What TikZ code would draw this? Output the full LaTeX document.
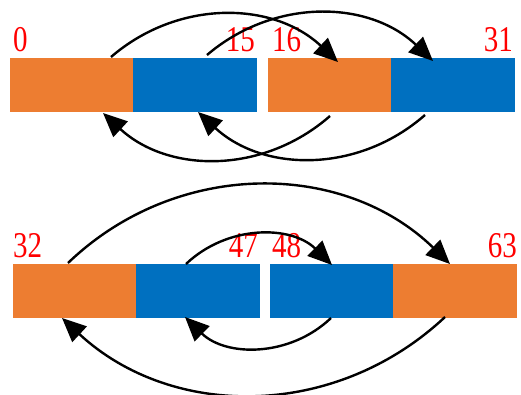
\documentclass[tikz,border=0pt]{standalone}
\usepackage{fontspec}
\setmainfont{Liberation Serif}
\usepackage{graphicx}
\usetikzlibrary{arrows.meta, positioning}
\definecolor{BarOrange}{RGB}{237,125,49}
\definecolor{BarBlue}{RGB}{0,112,192}

% digits come out a bit taller than the plain font
\newcommand{\tallnum}[1]{\scalebox{1}[1.25]{#1}}

\begin{document}
\begin{tikzpicture}[x=1pt, y=1pt,
  half/.style={rectangle, inner sep=0pt, line width=0.4pt, minimum width=122.6pt, minimum height=52.6pt},
  lo/.style={half, fill=BarOrange, draw=BarOrange},
  hi/.style={half, fill=BarBlue, draw=BarBlue},
  idx/.style={text=red, font=\fontsize{29}{29}\selectfont, inner sep=0pt},
  hop/.style={line width=2.4pt, -{Triangle[length=24pt, width=21pt]}}
]

  \useasboundingbox (0,0) rectangle (521,394);

  % Top row: 0..15 | 16..31
  \node[lo, anchor=south west] (t1) at (10,283) {};
  \node[hi, right=0pt of t1] (t2) {};
  \node[lo, right=12pt of t2] (t3) {};
  \node[hi, right=0pt of t3] (t4) {};

  \node[idx, anchor=base west] (n0) at ([xshift=3pt, yshift=6pt]t1.north west) {\tallnum{0}};
  \node[idx, anchor=base east] (n15) at ([xshift=-1pt, yshift=6pt]t2.north east) {\tallnum{15}};
  \node[idx, anchor=base west] (n16) at ([xshift=4pt, yshift=6pt]t3.north west) {\tallnum{16}};
  \node[idx, anchor=base east] (n31) at ([xshift=-1pt, yshift=6pt]t4.north east) {\tallnum{31}};

  % Bottom row: 32..47 | 48..63
  \node[lo, anchor=south west] (u1) at (13,77) {};
  \node[hi, right=0pt of u1] (u2) {};
  \node[hi, right=11pt of u2] (u3) {};
  \node[lo, right=0pt of u3] (u4) {};

  \node[idx, anchor=base west] (n32) at ([xshift=0pt, yshift=7pt]u1.north west) {\tallnum{32}};
  \node[idx, anchor=base east] (n47) at ([xshift=-1pt, yshift=7pt]u2.north east) {\tallnum{47}};
  \node[idx, anchor=base west] (n48) at ([xshift=2pt, yshift=7pt]u3.north west) {\tallnum{48}};
  \node[idx, anchor=base east] (n63) at ([xshift=1pt, yshift=7pt]u4.north east) {\tallnum{63}};

  % Swaps in the top row
  \draw[hop] ([xshift=-22pt, yshift=1pt]t1.north east) to[bend left=42] ([xshift=70pt, yshift=-4pt]t3.north west);
  \draw[hop] ([xshift=74pt, yshift=3pt]t2.north west) to[bend left=42] ([xshift=42pt, yshift=-3pt]t4.north west);
  \draw[hop] ([xshift=62pt, yshift=-5pt]t3.south west) to[bend left=42] ([xshift=93pt, yshift=-2pt]t1.south west);
  \draw[hop] ([xshift=34pt, yshift=-4pt]t4.south west) to[bend left=42] ([xshift=65pt, yshift=-1pt]t2.south west);

  % Swaps in the bottom row
  \draw[hop] ([xshift=55pt, yshift=1pt]u1.north west) to[bend left=44] ([xshift=57pt]u4.north west);
  \draw[hop] ([xshift=50pt]u2.north west) to[bend left=44] ([xshift=62pt, yshift=-1pt]u3.north west);
  \draw[hop] ([xshift=61pt, yshift=-1pt]u3.south west) to[bend left=44] ([xshift=49pt]u2.south west);
  \draw[hop] ([xshift=52pt]u4.south west) to[bend left=43] ([xshift=49pt, yshift=-1pt]u1.south west);

\end{tikzpicture}
\end{document}
